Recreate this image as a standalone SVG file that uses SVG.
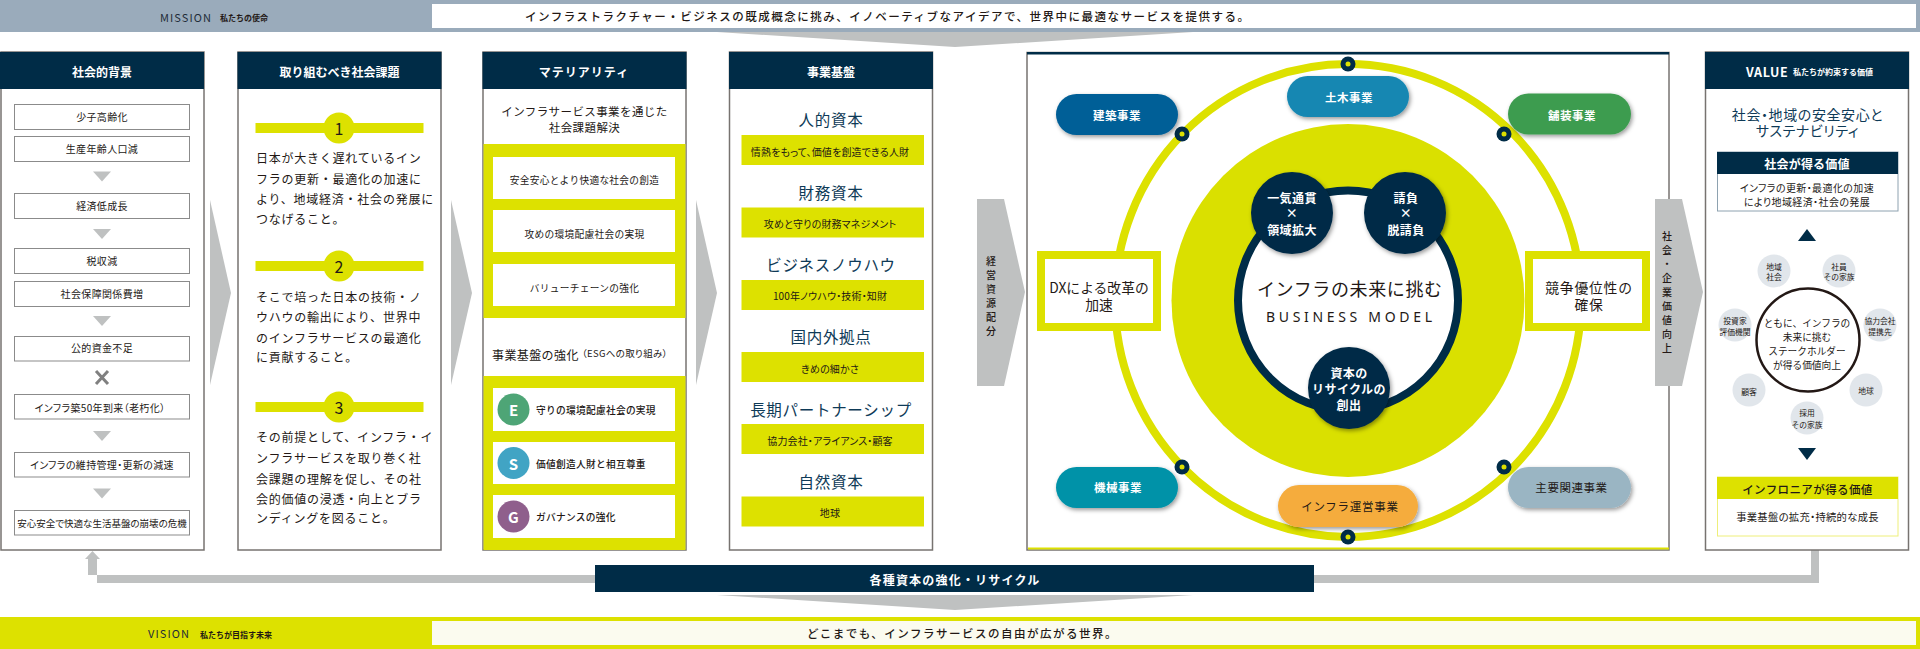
<svg xmlns="http://www.w3.org/2000/svg" width="1920" height="649" viewBox="0 0 1920 649">
<style>
text{font-family:"Noto Sans CJK JP","Noto Sans",sans-serif;dominant-baseline:central;fill:#231815}
.m{text-anchor:middle}
.bar{font-size:11.5px;letter-spacing:1.5px;font-weight:500}
.en{font-size:11px;letter-spacing:1.1px;fill:#1f2c38}
.sub{font-size:8px;font-weight:700}
.hd{font-size:12px;font-weight:700;fill:#fff;text-anchor:middle}
.p{fill:#fff;stroke:#777370;stroke-width:1.5}
.nv{fill:#002c47}
.yl{fill:#dde100}
.gr{fill:#bfc1c1}
.b{fill:#fff;stroke:#8b8b8b;stroke-width:1}
.s{font-size:10px;letter-spacing:.35px;text-anchor:middle;font-feature-settings:"palt"}
.body{font-size:12px;letter-spacing:.76px}
.cap{font-size:15.5px;letter-spacing:.7px;fill:#0e3a57;text-anchor:middle}
.y{font-size:10px;letter-spacing:.15px;text-anchor:middle;font-feature-settings:"palt"}
.mat{font-size:9.7px;letter-spacing:.3px}
.pill{font-size:11.5px;font-weight:700;fill:#fff;text-anchor:middle;letter-spacing:.55px}
.cw{font-size:12px;font-weight:700;fill:#fff;text-anchor:middle;letter-spacing:.4px}
.box{font-size:13.8px;text-anchor:middle}
.sat{font-size:7.8px;text-anchor:middle}
.c{font-size:9.7px;text-anchor:middle}
.v{font-size:10px;font-weight:500;text-anchor:middle}
.sd{filter:url(#sh)}
.pt{font-feature-settings:"palt"}
</style>
<defs>
<filter id="sh" x="-20%" y="-20%" width="150%" height="150%"><feDropShadow dx="1.5" dy="2" stdDeviation="2" flood-color="#000" flood-opacity=".4"/></filter>
<g id="tri"><polygon points="-9,0 9,0 0,10" class="gr"/></g>
</defs>

<g id="mission">
<rect width="1920" height="32" fill="#9aabbb"/>
<rect x="432" y="4" width="1484" height="24" fill="#fff"/>
<text x="160" y="16.5" class="en">MISSION</text>
<text x="220" y="17" class="sub">私たちの使命</text>
<text x="525" y="16" class="bar">インフラストラクチャー・ビジネスの既成概念に挑み、イノベーティブなアイデアで、世界中に最適なサービスを提供する。</text>
</g>
<g id="vision">
<rect y="617" width="1920" height="32" class="yl"/>
<rect x="432" y="621" width="1484" height="24" fill="#fbfbef"/>
<text x="148" y="633" class="en">VISION</text>
<text x="200" y="634" class="sub">私たちが目指す未来</text>
<text x="807" y="633" class="bar">どこまでも、インフラサービスの自由が広がる世界。</text>
</g>

<g id="connectors">
<polygon points="717,32 1193,32 955,47" class="gr"/>
<polygon points="717,595 1193,595 955,610" class="gr"/>
<polygon points="210,200 231,293 210,385" class="gr"/>
<polygon points="451,200 472,293 451,385" class="gr"/>
<polygon points="696,200 717,293 696,385" class="gr"/>
<polygon points="1811,550 1819,550 1819,583 97,583 97,559 100,559 92.500,551 85,559 88,559 88,575 1811,575" class="gr"/>
</g>

<g id="panel-background">
<rect x="1" y="52" width="203" height="498" class="p"/>
<rect x="0" y="52" width="204" height="37" class="nv"/>
<text x="102" y="71" class="hd">社会的背景</text>
<g class="boxes">
<rect x="14.500" y="104.500" width="175" height="25" class="b"/><text x="102" y="116.500" class="s">少子高齢化</text>
<rect x="14.500" y="136.500" width="175" height="25" class="b"/><text x="102" y="148.500" class="s">生産年齢人口減</text>
<rect x="14.500" y="193.500" width="175" height="25" class="b"/><text x="102" y="205.500" class="s">経済低成長</text>
<rect x="14.500" y="248.500" width="175" height="25" class="b"/><text x="102" y="260.500" class="s">税収減</text>
<rect x="14.500" y="281.500" width="175" height="25" class="b"/><text x="102" y="293" class="s">社会保障関係費増</text>
<rect x="14.500" y="336.500" width="175" height="24.500" class="b"/><text x="102" y="347.500" class="s">公的資金不足</text>
<rect x="14.500" y="394.500" width="175" height="24.500" class="b"/><text x="100" y="407" class="s">インフラ築50年到来（老朽化）</text>
<rect x="14.500" y="452.500" width="175" height="24.500" class="b"/><text x="102" y="464.500" class="s">インフラの維持管理・更新の減速</text>
<rect x="14.500" y="510.500" width="175" height="24.500" class="b"/><text x="102" y="522.500" class="s" style="font-size:9.5px;letter-spacing:0">安心安全で快適な生活基盤の崩壊の危機</text>
</g>
<use href="#tri" x="102" y="171.500"/><use href="#tri" x="102" y="229"/><use href="#tri" x="102" y="316"/><use href="#tri" x="102" y="431"/><use href="#tri" x="102" y="488.500"/>
<path d="M96,371 L108,384 M108,371 L96,384" stroke="#808080" stroke-width="3" fill="none"/>
</g>

<g id="panel-issues">
<rect x="238" y="52" width="203" height="498" class="p"/>
<rect x="237.500" y="52" width="204" height="37" class="nv"/>
<text x="339.500" y="71" class="hd">取り組むべき社会課題</text>
<rect x="255.500" y="123" width="168" height="10" class="yl"/><circle cx="339" cy="128" r="15.500" class="yl"/><text x="339" y="128" class="m" style="font-size:16px">1</text>
<rect x="255.500" y="261" width="168" height="10" class="yl"/><circle cx="339" cy="266" r="15.500" class="yl"/><text x="339" y="266" class="m" style="font-size:16px">2</text>
<rect x="255.500" y="402" width="168" height="10" class="yl"/><circle cx="339" cy="407" r="15.500" class="yl"/><text x="339" y="407" class="m" style="font-size:16px">3</text>
<g class="body">
<text x="256" y="157" class="body">日本が大きく遅れているイン</text>
<text x="256" y="178" class="body">フラの更新・最適化の加速に</text>
<text x="256" y="198.500" class="body">より、地域経済・社会の発展に</text>
<text x="256" y="218.500" class="body">つなげること。</text>
<text x="256" y="296.500" class="body">そこで培った日本の技術・ノ</text>
<text x="256" y="316.500" class="body">ウハウの輸出により、世界中</text>
<text x="256" y="337" class="body">のインフラサービスの最適化</text>
<text x="256" y="356.500" class="body">に貢献すること。</text>
<text x="256" y="436.500" class="body">その前提として、インフラ・イ</text>
<text x="256" y="457" class="body">ンフラサービスを取り巻く社</text>
<text x="256" y="478" class="body">会課題の理解を促し、その社</text>
<text x="256" y="498" class="body">会的価値の浸透・向上とブラ</text>
<text x="256" y="517.500" class="body">ンディングを図ること。</text>
</g>
</g>

<g id="panel-materiality">
<rect x="483" y="52" width="203" height="498" class="p"/>
<rect x="482.500" y="52" width="204" height="37" class="nv"/>
<text x="584" y="71" class="hd" style="letter-spacing:1px">マテリアリティ</text>
<text x="584.500" y="111" class="m" style="font-size:11.500px;letter-spacing:.4px">インフラサービス事業を通じた</text>
<text x="584.500" y="127" class="m" style="font-size:11.500px;letter-spacing:.4px">社会課題解決</text>
<rect x="483.500" y="144" width="202" height="174" class="yl"/>
<rect x="493" y="157" width="182" height="42" fill="#fff"/><text x="584.500" y="180" class="m mat">安全安心とより快適な社会の創造</text>
<rect x="493" y="210" width="182" height="42" fill="#fff"/><text x="584.500" y="234" class="m mat">攻めの環境配慮社会の実現</text>
<rect x="493" y="264" width="182" height="42" fill="#fff"/><text x="584.500" y="288" class="m mat">バリューチェーンの強化</text>
<text x="492" y="354.500" style="font-size:12px;letter-spacing:.4px">事業基盤の強化</text>
<text x="582" y="353" class="pt" style="font-size:9.500px;letter-spacing:.3px">（ESGへの取り組み）</text>
<rect x="483.500" y="376" width="202" height="174" class="yl"/>
<rect x="493" y="388" width="182" height="43" fill="#fff"/>
<rect x="493" y="442" width="182" height="42" fill="#fff"/>
<rect x="493" y="495" width="182" height="43" fill="#fff"/>
<circle cx="513.500" cy="409.500" r="16" fill="#4ea576"/><text x="513.500" y="409" class="m" style="font-size:15px;font-weight:700;fill:#fff">E</text>
<circle cx="513.500" cy="463" r="16" fill="#41a4c4"/><text x="513.500" y="463" class="m" style="font-size:15px;font-weight:700;fill:#fff">S</text>
<circle cx="513.500" cy="516.500" r="16" fill="#8f5f8c"/><text x="513.500" y="516" class="m" style="font-size:15px;font-weight:700;fill:#fff">G</text>
<text x="536" y="410" class="mat" style="font-weight:500">守りの環境配慮社会の実現</text>
<text x="536" y="464" class="mat" style="font-weight:500">価値創造人財と相互尊重</text>
<text x="536" y="517" class="mat" style="font-weight:500">ガバナンスの強化</text>
</g>

<g id="panel-foundation">
<rect x="729.500" y="52" width="203" height="498" class="p"/>
<rect x="729" y="52" width="204" height="37" class="nv"/>
<text x="831" y="71" class="hd">事業基盤</text>
<text x="831" y="119" class="cap">人的資本</text>
<rect x="741.500" y="135" width="182.500" height="30" class="yl"/><text x="830" y="151" class="y">情熱をもって、価値を創造できる人財</text>
<text x="831" y="192" class="cap">財務資本</text>
<rect x="741.500" y="207.500" width="182.500" height="30" class="yl"/><text x="830" y="223" class="y">攻めと守りの財務マネジメント</text>
<text x="831" y="264" class="cap">ビジネスノウハウ</text>
<rect x="741.500" y="280" width="182.500" height="30" class="yl"/><text x="830" y="295" class="y">100年ノウハウ・技術・知財</text>
<text x="831" y="336" class="cap">国内外拠点</text>
<rect x="741.500" y="352" width="182.500" height="30" class="yl"/><text x="830" y="368" class="y">きめの細かさ</text>
<text x="831" y="409" class="cap">長期パートナーシップ</text>
<rect x="741.500" y="424" width="182.500" height="30" class="yl"/><text x="830" y="440" class="y">協力会社・アライアンス・顧客</text>
<text x="831" y="481" class="cap">自然資本</text>
<rect x="741.500" y="496.500" width="182.500" height="30" class="yl"/><text x="830" y="512" class="y">地球</text>
</g>

<g id="panel-model">
<rect x="1027" y="52.500" width="642" height="497.500" class="p"/>
<rect x="1027" y="52" width="642" height="2.500" class="nv"/>
<rect x="1028" y="547.500" width="641" height="2" class="yl"/>
<ellipse cx="1348" cy="300.500" rx="233" ry="236.500" fill="none" stroke="#dde100" stroke-width="8"/>
<circle cx="1348" cy="300.500" r="176.500" fill="#dae000"/>
<circle cx="1348" cy="300.500" r="110" fill="#fff" stroke="#002c47" stroke-width="8"/>
<g id="dots" fill="#002c47">
<circle cx="1348" cy="64" r="7.500"/><circle cx="1182" cy="134" r="7.500"/><circle cx="1504" cy="134" r="7.500"/><circle cx="1182" cy="467" r="7.500"/><circle cx="1504" cy="467" r="7.500"/><circle cx="1348" cy="537" r="7.500"/>
</g>
<g class="yl">
<circle cx="1348" cy="64" r="2.500"/><circle cx="1182" cy="134" r="2.500"/><circle cx="1504" cy="134" r="2.500"/><circle cx="1182" cy="467" r="2.500"/><circle cx="1504" cy="467" r="2.500"/><circle cx="1348" cy="537" r="2.500"/>
</g>
<text x="1349.500" y="288" class="m" textLength="185" style="font-size:18px">インフラの未来に挑む</text>
<text x="1349" y="316" class="m" textLength="166" style="font-size:14px;font-family:'Noto Sans',sans-serif">BUSINESS MODEL</text>
<rect x="1041" y="255" width="116" height="72" fill="#fff" stroke="#dde100" stroke-width="8"/>
<text x="1099" y="287" class="box">DXによる改革の</text>
<text x="1099" y="303.500" class="box">加速</text>
<rect x="1529" y="255" width="117" height="72" fill="#fff" stroke="#dde100" stroke-width="8"/>
<text x="1589" y="287" class="box" style="letter-spacing:.8px">競争優位性の</text>
<text x="1589" y="303.500" class="box" style="letter-spacing:.8px">確保</text>
</g>
<g id="hub-1"><circle cx="1292" cy="213" r="41" class="nv sd"/>
<text x="1292" y="197" class="cw">一気通貫</text><text x="1292" y="212.500" class="cw">×</text><text x="1292" y="229" class="cw">領域拡大</text></g>
<g id="hub-2"><circle cx="1405" cy="213" r="41" class="nv sd"/>
<text x="1406" y="197" class="cw">請負</text><text x="1406" y="212.500" class="cw">×</text><text x="1406" y="229" class="cw">脱請負</text></g>
<g id="hub-3"><circle cx="1349" cy="388" r="41" class="nv sd"/>
<text x="1349" y="372" class="cw">資本の</text><text x="1349" y="388" class="cw">リサイクルの</text><text x="1349" y="404.500" class="cw">創出</text></g>
<g id="biz-kenchiku"><rect x="1056" y="94" width="122" height="41" rx="20.500" fill="#005f97" class="sd"/><text x="1117" y="115" class="pill">建築事業</text></g>
<g id="biz-doboku"><rect x="1287" y="76" width="122" height="41" rx="20.500" fill="#1587b2" class="sd"/><text x="1349" y="96.500" class="pill">土木事業</text></g>
<g id="biz-hoso"><rect x="1508" y="93.500" width="123" height="41" rx="20.500" fill="#3d9c50" class="sd"/><text x="1572" y="115" class="pill">舗装事業</text></g>
<g id="biz-kikai"><rect x="1056" y="467" width="122" height="41" rx="20.500" fill="#0092a8" class="sd"/><text x="1118" y="486.500" class="pill">機械事業</text></g>
<g id="biz-unei"><rect x="1278" y="485" width="140" height="42" rx="21" fill="#f5ac3c" class="sd"/><text x="1350" y="505.500" class="pill" style="font-weight:400;fill:#231815;letter-spacing:.75px">インフラ運営事業</text></g>
<g id="biz-kanren"><rect x="1508" y="467" width="123" height="41" rx="20.500" fill="#9ab5c3" class="sd"/><text x="1571.500" y="486.500" class="pill" style="font-weight:400;fill:#231815">主要関連事業</text></g>

<g id="arrow-resource">
<polygon points="977,199 1004,199 1025,292 1004,386 977,386" class="gr"/>
<text class="v"><tspan x="991" y="260">経</tspan><tspan x="991" y="274">営</tspan><tspan x="991" y="288">資</tspan><tspan x="991" y="302">源</tspan><tspan x="991" y="316">配</tspan><tspan x="991" y="330">分</tspan></text>
</g>
<g id="arrow-value">
<polygon points="1655,199 1682,199 1703,292 1682,386 1655,386" class="gr"/>
<text class="v"><tspan x="1667" y="235">社</tspan><tspan x="1667" y="249">会</tspan><tspan x="1667" y="263">・</tspan><tspan x="1667" y="277">企</tspan><tspan x="1667" y="291">業</tspan><tspan x="1667" y="305">価</tspan><tspan x="1667" y="319">値</tspan><tspan x="1667" y="333">向</tspan><tspan x="1667" y="347">上</tspan></text>
</g>

<g id="panel-value">
<rect x="1705.500" y="52" width="203" height="498" class="p"/>
<rect x="1705" y="52" width="204" height="37" class="nv"/>
<text x="1746" y="71" style="font-size:12.500px;font-weight:700;fill:#fff;letter-spacing:.6px">VALUE</text>
<text x="1793" y="71.500" class="sub" style="fill:#fff">私たちが約束する価値</text>
<text x="1807.500" y="114" class="m pt" style="font-size:14px;fill:#0e3a57;letter-spacing:.6px">社会・地域の安全安心と</text>
<text x="1807.500" y="130" class="m pt" style="font-size:14px;fill:#0e3a57;letter-spacing:.6px">サステナビリティ</text>
<rect x="1717.500" y="152" width="180.500" height="59" fill="#fff" stroke="#8ea2b0"/>
<rect x="1717" y="152" width="181" height="22" class="nv"/>
<text x="1807" y="163.500" class="m" style="font-size:12px;font-weight:700;fill:#fff;letter-spacing:.2px">社会が得る価値</text>
<text x="1807" y="187" class="m pt" style="font-size:10px;letter-spacing:.4px">インフラの更新・最適化の加速</text>
<text x="1807" y="201.500" class="m pt" style="font-size:10px;letter-spacing:.4px">により地域経済・社会の発展</text>
<polygon points="1798,241 1816,241 1807,229" class="nv"/>
<g id="stakeholders" fill="#e1e6eb">
<circle cx="1774" cy="271" r="16.500"/><circle cx="1839" cy="271" r="16.500"/><circle cx="1880" cy="325" r="16.500"/><circle cx="1866" cy="390" r="16.500"/><circle cx="1807" cy="418" r="16.500"/><circle cx="1749" cy="390" r="16.500"/><circle cx="1735" cy="325" r="16.500"/>
</g>
<text x="1774" y="266" class="sat">地域</text><text x="1774" y="276.500" class="sat">社会</text>
<text x="1839" y="266" class="sat">社員</text><text x="1839" y="276.500" class="sat">その家族</text>
<text x="1880" y="320" class="sat">協力会社</text><text x="1880" y="331" class="sat">提携先</text>
<text x="1866" y="390" class="sat">地球</text>
<text x="1807" y="412.500" class="sat">採用</text><text x="1807" y="424" class="sat">その家族</text>
<text x="1749" y="391" class="sat">顧客</text>
<text x="1735" y="320" class="sat">投資家</text><text x="1735" y="331" class="sat">評価機関</text>
<circle cx="1808" cy="340" r="51.500" fill="#fff" stroke="#231815" stroke-width="2.500"/>
<text x="1807" y="322.500" class="c">ともに、インフラの</text>
<text x="1807" y="336.500" class="c">未来に挑む</text>
<text x="1807" y="351" class="c">ステークホルダー</text>
<text x="1807" y="364.500" class="c">が得る価値向上</text>
<polygon points="1798,448 1816,448 1807,460" class="nv"/>
<rect x="1717.500" y="477" width="180.500" height="59" fill="#fff" stroke="#eeef7a"/>
<rect x="1717" y="477" width="181" height="22" class="yl"/>
<text x="1807.500" y="488.500" class="m" style="font-size:11.500px;letter-spacing:.4px;font-weight:500">インフロニアが得る価値</text>
<text x="1807.500" y="516.500" class="m pt" style="font-size:10.300px;letter-spacing:.3px">事業基盤の拡充・持続的な成長</text>
</g>

<g id="recycle">
<rect x="595" y="565" width="719" height="27" class="nv"/>
<text x="955" y="579" class="hd" style="letter-spacing:1.2px">各種資本の強化・リサイクル</text>
</g>
</svg>
